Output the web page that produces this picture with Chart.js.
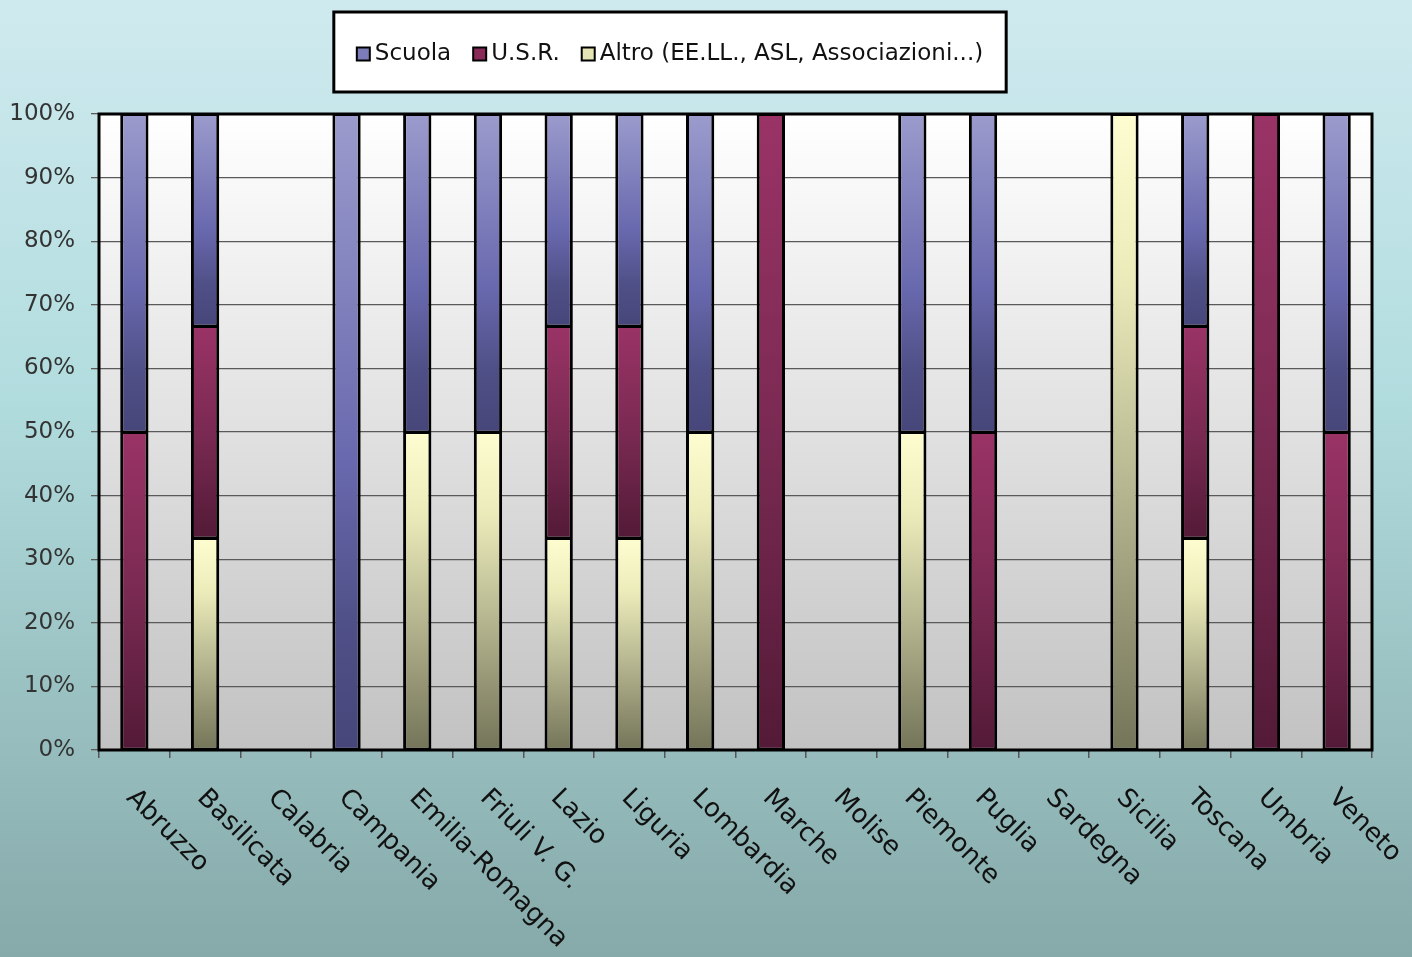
<!DOCTYPE html>
<html>
<head>
<meta charset="utf-8">
<script src="https://cdn.jsdelivr.net/npm/chart.js@4.4.0/dist/chart.umd.min.js"></script>
<style>
html, body { margin: 0; padding: 0; overflow: hidden; }
</style>
</head>
<body>
<canvas id="grafico" width="1412" height="957"></canvas>
<script>
// dati (percentuali per regione)
const regioni = ['Abruzzo', 'Basilicata', 'Calabria', 'Campania', 'Emilia-Romagna', 'Friuli V. G.', 'Lazio', 'Liguria', 'Lombardia', 'Marche', 'Molise', 'Piemonte', 'Puglia', 'Sardegna', 'Sicilia', 'Toscana', 'Umbria', 'Veneto'];
const altro = [null, 33.33, null, null, 50, 50, 33.33, 33.33, 50, null, null, 50, null, null, 100, 33.33, null, null];
const usr = [50, 33.33, null, null, null, null, 33.33, 33.33, null, 100, null, null, 50, null, null, 33.33, 100, 50];
const scuola = [50, 33.33, null, 100, 50, 50, 33.33, 33.33, 50, null, null, 50, 50, null, null, 33.33, null, 50];
const etichetteY = ['0%', '10%', '20%', '30%', '40%', '50%', '60%', '70%', '80%', '90%', '100%'];

const font = "'DejaVu Sans', sans-serif";

const sfumScuola = [[0, '#9b9bcd'], [0.55, '#6868ae'], [0.8, '#505088'], [1, '#46467a']];
const sfumUsr = [[0, '#9a3366'], [0.5, '#7a2a52'], [1, '#531a37']];
const sfumAltro = [[0, '#fdfdd0'], [0.25, '#ececbb'], [0.6, '#b4b48f'], [1, '#747459']];

function sfumatura(stops) {
	return function(ctx) {
		let chart = ctx.chart;
		if (!chart.chartArea || ctx.type !== 'data') return stops[0][1];
		let i = ctx.dataIndex;
		let base = 0;
		for (let d = 0; d < ctx.datasetIndex; d++) {
			base += chart.data.datasets[d].data[i] || 0;
		}
		let v = chart.data.datasets[ctx.datasetIndex].data[i] || 0;
		let y = chart.scales.y;
		let top = y.getPixelForValue(base + v);
		let bot = y.getPixelForValue(base);
		if (!(bot > top)) return stops[0][1];
		let g = chart.ctx.createLinearGradient(0, top, 0, bot);
		stops.forEach(s => g.addColorStop(s[0], s[1]));
		return g;
	};
}

const sfondo = {
	id: 'sfondo',
	beforeDraw(chart) {
		let c = chart.ctx;
		let a = chart.chartArea;
		let g = c.createLinearGradient(0, 0, 0, chart.height);
		g.addColorStop(0, '#cfeaef');
		g.addColorStop(0.42, '#b1dcde');
		g.addColorStop(1, '#86a9a9');
		c.save();
		c.fillStyle = g;
		c.fillRect(0, 0, chart.width, chart.height);
		let g2 = c.createLinearGradient(0, a.top, 0, a.bottom);
		g2.addColorStop(0, '#ffffff');
		g2.addColorStop(1, '#c2c2c2');
		c.fillStyle = g2;
		c.fillRect(a.left, a.top, a.right - a.left, a.bottom - a.top);
		c.restore();
	},
	afterDraw(chart) {
		let c = chart.ctx;
		let a = chart.chartArea;
		c.save();
		// bordo area del grafico
		c.strokeStyle = '#000';
		c.lineWidth = 3;
		c.strokeRect(a.left, a.top, a.right - a.left, a.bottom - a.top);

		// etichette categorie ruotate
		let xs = chart.scales.x;
		c.font = '26px ' + font;
		c.fillStyle = '#111';
		c.textAlign = 'left';
		c.textBaseline = 'middle';
		chart.data.labels.forEach((lab, i) => {
			c.save();
			c.translate(xs.getPixelForValue(i) - 4, a.bottom + 44);
			c.rotate(Math.PI / 4);
			c.fillText(lab, 0, 0);
			c.restore();
		});

		// legenda in riquadro
		let voci = chart.data.datasets.slice().reverse();
		c.font = '23px ' + font;
		let quad = 13, gap = 5, spazio = 22;
		let larghezze = voci.map(d => quad + gap + c.measureText(d.label).width);
		let totale = larghezze.reduce((s, w) => s + w, 0) + spazio * (voci.length - 1);
		let boxW = totale + 46, boxH = 80;
		let cx = 670, cy = 52;
		c.fillStyle = '#fff';
		c.fillRect(cx - boxW / 2, cy - boxH / 2, boxW, boxH);
		c.lineWidth = 3;
		c.strokeStyle = '#000';
		c.strokeRect(cx - boxW / 2, cy - boxH / 2, boxW, boxH);
		let x = cx - totale / 2;
		voci.forEach((d, k) => {
			c.fillStyle = d.legendColor;
			c.fillRect(x, cy - quad / 2 + 2, quad, quad);
			c.lineWidth = 2;
			c.strokeRect(x, cy - quad / 2 + 2, quad, quad);
			c.fillStyle = '#111';
			c.textBaseline = 'middle';
			c.fillText(d.label, x + quad + gap, cy + 2);
			x += larghezze[k] + spazio;
		});
		c.restore();
	}
};

let target = document.getElementById('grafico');
new Chart(target, {
	type: 'bar',
	data: {
		labels: regioni,
		datasets: [
			{ label: 'Altro (EE.LL., ASL, Associazioni...)', data: altro, backgroundColor: sfumatura(sfumAltro), legendColor: '#e4e4b4' },
			{ label: 'U.S.R.', data: usr, backgroundColor: sfumatura(sfumUsr), legendColor: '#8a2a58' },
			{ label: 'Scuola', data: scuola, backgroundColor: sfumatura(sfumScuola), legendColor: '#7c7cba' }
		]
	},
	options: {
		responsive: false,
		animation: false,
		layout: { padding: { top: 114, right: 40, left: 0, bottom: 0 } },
		datasets: {
			bar: {
				barPercentage: 0.4,
				categoryPercentage: 1,
				borderColor: '#000',
				borderWidth: { top: 2, bottom: 1.5, left: 3, right: 3 },
				borderSkipped: false
			}
		},
		plugins: {
			legend: { display: false },
			tooltip: { enabled: false }
		},
		scales: {
			x: {
				stacked: true,
				afterFit: s => { s.height = 207; },
				ticks: { display: false },
				grid: { offset: true, drawOnChartArea: false, drawTicks: true, tickLength: 8, color: '#555', lineWidth: 1.5 },
				border: { display: false }
			},
			y: {
				stacked: true,
				min: 0,
				max: 100,
				afterFit: s => { s.width = 99; },
				ticks: {
					stepSize: 10,
					padding: 16,
					color: '#333',
					font: { family: font, size: 23 },
					callback: (v, i) => etichetteY[i]
				},
				grid: { color: '#5a5a5a', lineWidth: 1.3, tickLength: 8 },
				border: { display: false }
			}
		}
	},
	plugins: [sfondo]
});
</script>
</body>
</html>
